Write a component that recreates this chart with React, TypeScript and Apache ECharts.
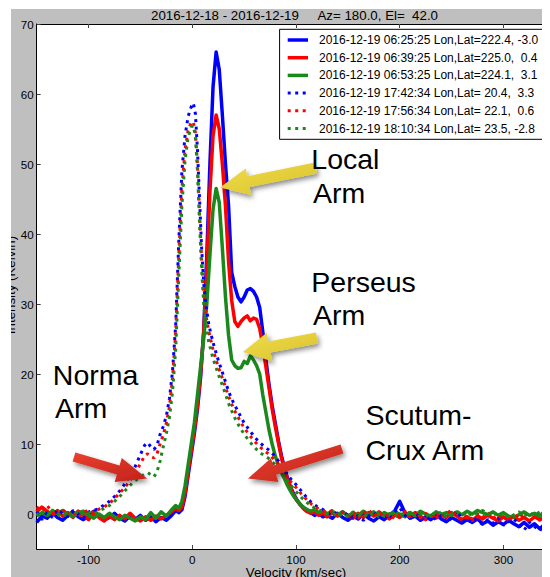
import React, { useEffect, useRef } from 'react';
import * as echarts from 'echarts';

const FONT = '"Liberation Sans", Arial, Helvetica, sans-serif';

// ---------- data ----------
const VEL_SOLID = [
  -150, -145, -140, -135, -130, -125, -120, -115, -110, -105, -100, -95, -90, -85, -80, -75, -70, -65, -60, -55, -50, -45, -40, -35, -30, -25, -20,
  -16, -13, -10, -7, -4, -1, 2, 5, 8, 11, 14, 17, 20, 23, 26, 29, 32, 35, 38, 41, 44, 47, 50, 53, 56, 59, 62, 65, 68, 71, 74, 77, 80, 83, 86, 89, 92, 95, 98, 101, 104, 107, 110, 114, 118, 122, 126,
  130, 135, 140, 145, 150, 155, 160, 165, 170, 175, 180, 185, 190, 195, 200, 205, 210, 215, 220, 225, 230, 235, 240, 245, 250, 255, 260, 265, 270, 275, 280, 285, 290, 295, 300, 305, 310, 315, 320, 325, 330, 335, 340, 345, 350,
];

const BLUE_0625 = [
  -1.2, -0.3, -0.6, 0.2, -0.5, -0.9, -0.2, 0.3, -0.4, -0.8, -0.3, 0.4, -0.2, -0.9, -0.5, 0.1, -0.6, -1.0, -0.3, -0.8, -0.2, -0.9, -0.4, -1.1, -0.5, -0.9, -0.2,
  0.5, 0.2, 0.6, 2.5, 5.5, 8.5,
  11.5, 15, 19.5, 26, 37, 50, 61, 66, 63.5, 57, 50, 44, 34.5, 32.5, 31, 30.3, 31, 32, 32.2, 31.8, 31, 29.5, 26, 22, 18.5, 15.5, 13, 10.5, 8.3, 6.5, 5, 3.8, 2.8, 2, 1.4, 0.9, 0.5,
  0.2, -0.2, 0.1, -0.4,
  -0.2, -0.6, 0.1, -0.5, -0.9, -0.3, -0.7, 0.0, -0.6, -1.0, -0.4, -0.8, -0.2, 0.4, 1.8, 0.2, -0.6, -0.3, -0.9, -0.4, -0.8, -0.2, -0.7, -1.1, -0.5, -0.9, -1.3, -0.8, -1.2, -0.7, -1.4, -1.0, -1.6, -1.1, -1.5, -0.9, -1.4, -1.8, -1.2, -1.9, -1.4, -2.1, -1.5, -1.9, -1.3,
];

const RED_0639 = [
  0.3, 1.0, 0.4, -0.2, 0.5, -0.3, 0.2, -0.5, 0.4, -0.2, -0.8, 0.1, -0.5, -1.0, -0.3, -0.8, -0.2, -0.7, 0.1, -0.6, -1.0, -0.4, -0.9, -0.3, -0.7, -0.2, 0.3,
  0.8, 0.5, 1.0, 3.0, 6.0, 9.0,
  12, 15.5, 20, 26, 35, 46, 54, 57, 55, 50, 44, 36, 30.5, 27.5, 26.8, 27.5, 28, 28.3, 27.6, 28, 27.8, 26.5, 24, 21, 18, 15, 12.5, 10.2, 8, 6.2, 4.8, 3.6, 2.6, 1.9, 1.3, 0.8, 0.4,
  0.1, 0.3, -0.2, 0.2,
  -0.4, 0.2, -0.3, 0.3, -0.2, -0.6, 0.1, -0.5, 0.2, -0.3, 0.3, -0.2, -0.7, -0.1, -0.5, 0.1, -0.4, 0.2, -0.3, -0.8, -0.2, -0.6, 0.0, -0.5, 0.2, -0.3, -0.8, -0.4, -0.9, -0.3, -0.7, -0.2, -0.6, -1.0, -0.4, -0.8, -0.3, -0.9, -0.5, -1.0, -0.4, -0.8, -0.3, -0.7, -0.2,
];

const GREEN_0653 = [
  -0.3, 0.2, -0.2, 0.4, 0.1, 0.5, 0.0, -0.4, 0.2, 0.4, -0.2, -0.6, 0.0, -0.5, 0.1, -0.4, -0.8, -0.2, -0.6, -1.0, -0.4, -0.8, 0.2, -0.6, 0.3, -0.3, 0.6,
  1.2, 0.8, 1.8, 4.0, 7.0, 10,
  13, 17, 21, 25, 30, 37, 43.5, 46.5, 44.5, 38, 31, 25.5, 22, 21.2, 20.8, 20.9, 21.8, 21.5, 22.6, 22, 21.2, 20, 17, 14.5, 12, 10, 8.3, 7, 5.9, 5, 4, 3.2, 2.5, 1.9, 1.4, 1.0, 0.7,
  0.4, 0.6, 0.2, 0.5,
  0.0, 0.4, -0.1, 0.3, -0.3, 0.2, -0.2, 0.4, -0.1, 0.3, -0.4, 0.2, -0.2, 0.3, 0.0, -0.4, 0.2, -0.2, 0.4, 0.0, -0.3, 0.3, -0.1, 0.2, -0.2, 0.3, -0.1, 0.4, 0.0, 0.5, 0.2, -0.1, 0.3, -0.2, 0.2, -0.3, -0.5, -0.1, 0.3, -0.2, 0.1, -0.3, 0.4, 0.0, 0.3,
];

const VEL_DOT = [
  -150, -145, -140, -135, -130, -125, -120, -115, -110, -105, -100,
  -95, -90, -85, -80, -75, -70, -65, -60, -55, -50,
  -46, -43, -40, -37, -34, -31, -28, -25, -22, -19, -16, -13, -10, -7, -4, -1,
  1, 3, 5, 7, 9, 11, 13, 16, 20, 25, 30, 35, 40, 45, 50, 55, 60, 65, 70, 75, 80, 85, 90, 95, 100, 105, 110, 115, 120, 125, 130,
  135, 140, 145, 150, 155, 160, 165, 170, 175, 180, 185, 190, 195, 200, 205, 210, 215, 220, 225, 230, 235, 240, 245, 250, 255, 260, 265, 270, 275, 280, 285, 290, 295, 300, 305, 310, 315, 320, 325, 330, 335, 340, 345, 350,
];

const BLUE_1742 = [
  0.3, -0.8, 0.2, -0.5, 0.6, 0.1, -0.4, 0.5, 0.0, -0.6, 0.3,
  0.5, 0.8, 1.3, 1.8, 2.5, 3.3, 4.3, 5.5, 6.8, 8.5,
  9.8, 10.2, 9.6, 9.2, 9.8, 11.4, 12.5, 14, 16.5, 20.5, 27, 39, 49, 54, 56.8, 58.2,
  58.7, 57.2, 52, 45, 38, 33, 30, 27, 24.5, 22, 19.8, 17.5, 15.8, 14.4, 13, 12, 11, 10.2, 9.6, 9, 8.2, 7.2, 6, 5, 4.2, 3.3, 2.4, 1.6, 1.1, 0.7, 0.3,
  -0.2, 0.3, -0.5, 0.1, -0.7, -0.2, -0.9, -0.3, 0.2, -0.6, -0.1, -0.8, 0.3, 0.9, -0.2, -0.7, 0.1, -0.5, -1.0, -0.3, -0.8, -0.2, -1.2, -0.6, 0.4, -0.7, -1.3, -0.5, -1.0, -1.5, -0.8, -1.3, -0.6, -1.6, -1.1, -0.7, -1.5, -2.3, -1.2, -1.8, -2.4, -1.4, -2.0, -1.5,
];

const RED_1756 = [
  1.0, 0.4, 1.2, 0.3, -0.3, 0.6, -0.1, 0.4, -0.5, 0.2, 0.6,
  0.2, 0.7, 1.0, 1.5, 2.2, 3.0, 3.8, 4.8, 5.8, 7.2,
  8.3, 8.6, 8.2, 8.0, 8.6, 10, 11.3, 13, 15.3, 19.5, 26, 37, 46.5, 52, 54.8, 56,
  56, 54.5, 50, 43, 36.5, 31.5, 28.5, 26, 23.5, 21, 19, 16.8, 15, 13.6, 12.3, 11.3, 10.4, 9.6, 9, 8.4, 7.6, 6.7, 5.6, 4.6, 3.8, 2.9, 2.1, 1.4, 0.9, 0.5, 0.2,
  0.5, -0.2, 0.3, -0.4, 0.2, -0.6, 0.1, 0.6, -0.3, 0.2, -0.5, 0.0, -0.7, -0.1, 0.4, -0.4, 0.2, -0.6, 0.1, -0.4, 0.3, -0.5, 0.0, 0.6, -0.3, -0.8, -0.2, -0.7, 0.0, -0.5, 0.2, -0.6, -0.1, -0.9, -0.3, -0.8, 0.1, -0.6, -1.0, -0.4, -0.9, -0.2, -0.7, -0.1,
];

const GREEN_1810 = [
  -0.2, 0.5, -0.3, 0.6, 0.0, -0.5, 0.3, -0.2, 0.4, -0.1, 0.2,
  0.0, 0.4, 0.8, 1.2, 1.8, 2.5, 3.3, 4.1, 4.8, 5.3,
  5.7, 5.9, 5.6, 5.3, 6.0, 7.6, 9.6, 11.5, 13.8, 17.5, 23.5, 34, 44, 50.5, 53.8, 55.3,
  55.5, 54, 49, 41.5, 35, 30, 27, 24.5, 22.2, 20, 18, 15.8, 14, 12.6, 11.4, 10.4, 9.5, 8.8, 8.3, 7.8, 7.0, 6.1, 5.1, 4.1, 3.2, 2.4, 1.7, 1.1, 0.7, 0.4, 0.1,
  0.2, -0.4, 0.1, -0.3, 0.3, -0.1, -0.5, 0.2, -0.2, 0.3, -0.3, 0.1, -0.4, 0.2, -0.2, 0.3, -0.3, 0.1, -0.4, 0.2, -0.2, 0.3, -0.4, 0.0, 0.4, -0.2, 0.3, -0.3, 0.2, 0.5, -0.1, 0.3, -0.4, 0.1, -0.5, -0.1, 0.3, -0.3, 0.2, -0.2, 0.3, -0.4, 0.1, -0.3,
];

const SERIES_NAMES = [
  '2016-12-19 06:25:25 Lon,Lat=222.4, -3.0',
  '2016-12-19 06:39:25 Lon,Lat=225.0,  0.4',
  '2016-12-19 06:53:25 Lon,Lat=224.1,  3.1',
  '2016-12-19 17:42:34 Lon,Lat= 20.4,  3.3',
  '2016-12-19 17:56:34 Lon,Lat= 22.1,  0.6',
  '2016-12-19 18:10:34 Lon,Lat= 23.5, -2.8',
];

const X_TICKS = [-100, 0, 100, 200, 300];
const Y_TICKS = [0, 10, 20, 30, 40, 50, 60, 70];

const TITLE_DATES = '2016-12-18 - 2016-12-19';
const TITLE_POINTING = 'Az= 180.0, El=  42.0';
const X_NAME = 'Velocity (km/sec)';
const Y_NAME = 'Intensity (Kelvin)';

// ---------- styling ----------
const BLUE = '#0000ff';
const RED = '#ff0000';
const GREEN = '#1a881a';
const DOT = [3, 4.5];

// page -> chart coordinates (chart div sits at the body's 8px margin)
const OX = 8;
const OY = 8;
const px = (x: number) => x - OX;
const py = (y: number) => y - OY;

const nb = (s: string) => s.replace(/  /g, ' \u00a0');

function arrow(tx: number, ty: number, hx: number, hy: number, sw: number, hw: number, hl: number) {
  const dx = hx - tx;
  const dy = hy - ty;
  const L = Math.hypot(dx, dy);
  const ux = dx / L;
  const uy = dy / L;
  const nx = -uy;
  const ny = ux;
  const bx = hx - ux * hl;
  const by = hy - uy * hl;
  const pts = [
    [tx + (nx * sw) / 2, ty + (ny * sw) / 2],
    [bx + (nx * sw) / 2, by + (ny * sw) / 2],
    [bx + (nx * hw) / 2, by + (ny * hw) / 2],
    [hx, hy],
    [bx - (nx * hw) / 2, by - (ny * hw) / 2],
    [bx - (nx * sw) / 2, by - (ny * sw) / 2],
    [tx - (nx * sw) / 2, ty - (ny * sw) / 2],
  ];
  return pts.map(([x, y]) => [px(x), py(y)]);
}

export default function App() {
  const ref = useRef<HTMLDivElement>(null);

  useEffect(() => {
    if (!ref.current) return;
    const chart = echarts.init(ref.current, null, { renderer: 'svg' });

    const zip = (xs: number[], ys: number[]) => xs.map((x, i) => [x, ys[i]]);

    const solid = (name: string, color: string, ys: number[]) => ({
      name,
      type: 'line',
      data: zip(VEL_SOLID, ys),
      symbol: 'none',
      showSymbol: false,
      smooth: false,
      xAxisIndex: 0,
      yAxisIndex: 0,
      lineStyle: { color, width: 3.5, join: 'round' },
      itemStyle: { color },
      silent: true,
    });
    const dotted = (name: string, color: string, ys: number[]) => ({
      name,
      type: 'line',
      data: zip(VEL_DOT, ys),
      symbol: 'none',
      showSymbol: false,
      smooth: false,
      xAxisIndex: 0,
      yAxisIndex: 0,
      lineStyle: { color, width: 3, type: DOT, cap: 'butt' },
      itemStyle: { color },
      silent: true,
    });

    const colors = [BLUE, RED, GREEN, BLUE, RED, GREEN];
    const legendTop = 40;
    const legendStep = 17.7;

    const legendEls: any[] = [
      {
        type: 'rect',
        shape: { x: px(279.6), y: py(29.3), width: 290, height: 110 },
        style: { fill: '#ffffff', stroke: '#000000', lineWidth: 1 },
        z: 50,
      },
    ];
    SERIES_NAMES.forEach((name, i) => {
      const y = py(legendTop + i * legendStep);
      const isDot = i >= 3;
      legendEls.push({
        type: 'line',
        shape: { x1: px(287.7), y1: y, x2: px(308), y2: y },
        style: {
          stroke: colors[i],
          lineWidth: isDot ? 3 : 3.5,
          lineDash: isDot ? DOT : null,
          lineCap: 'butt',
        },
        z: 51,
      });
      legendEls.push({
        type: 'text',
        x: px(319),
        y,
        style: {
          text: nb(name),
          fontSize: 12,
          fontFamily: FONT,
          fill: '#000',
          textAlign: 'left',
          textVerticalAlign: 'middle',
        },
        z: 51,
      });
    });

    const annotation = (text: string, x: number, baseline: number) => ({
      type: 'text',
      x: px(x),
      y: py(baseline - 9.9),
      style: {
        text,
        fontSize: 28.5,
        fontFamily: FONT,
        fill: '#000',
        textAlign: 'left',
        textVerticalAlign: 'middle',
      },
      z: 110,
    });

    const yellowFill = new echarts.graphic.LinearGradient(0, 0, 1, 1, [
      { offset: 0, color: '#f0dd4c' },
      { offset: 1, color: '#d8c02a' },
    ]);
    const redFill = new echarts.graphic.LinearGradient(0, 0, 1, 1, [
      { offset: 0, color: '#e8402f' },
      { offset: 1, color: '#c2221b' },
    ]);
    const shadow = {
      shadowBlur: 5,
      shadowColor: 'rgba(0,0,0,0.45)',
      shadowOffsetX: 2,
      shadowOffsetY: 3,
    };
    const arrowEl = (pts: number[][], fill: any) => ({
      type: 'polygon',
      shape: { points: pts },
      style: { fill, ...shadow },
      z: 100,
    });

    const option: any = {
      animation: false,
      backgroundColor: '#bfbfbf',
      grid: {
        left: px(36.7),
        top: py(24),
        width: 518.6,
        height: 525,
        show: true,
        backgroundColor: '#ffffff',
        borderWidth: 0,
        containLabel: false,
        outerBoundsMode: 'none',
      },
      xAxis: [
        {
          type: 'value',
          min: -150,
          max: 350,
          position: 'bottom',
          axisLine: { show: true, onZero: false, lineStyle: { color: '#000', width: 1 } },
          axisTick: { show: true, inside: true, length: 4, customValues: X_TICKS, lineStyle: { color: '#444' } },
          axisLabel: {
            show: true,
            customValues: X_TICKS,
            fontSize: 11.6,
            fontFamily: FONT,
            color: '#000',
            margin: 4,
          },
          splitLine: { show: false },
        },
        {
          type: 'value',
          min: -150,
          max: 350,
          position: 'top',
          axisLine: { show: true, onZero: false, lineStyle: { color: '#000', width: 1 } },
          axisTick: { show: true, inside: true, length: 4, customValues: X_TICKS, lineStyle: { color: '#444' } },
          axisLabel: { show: false },
          splitLine: { show: false },
        },
      ],
      yAxis: [
        {
          type: 'value',
          min: -5,
          max: 70,
          position: 'left',
          axisLine: { show: true, onZero: false, lineStyle: { color: '#000', width: 1 } },
          axisTick: { show: true, inside: true, length: 4, customValues: Y_TICKS, lineStyle: { color: '#444' } },
          axisLabel: {
            show: true,
            customValues: Y_TICKS,
            fontSize: 11.6,
            fontFamily: FONT,
            color: '#000',
            margin: 3,
          },
          splitLine: { show: false },
        },
      ],
      series: [
        solid(SERIES_NAMES[0], BLUE, BLUE_0625),
        solid(SERIES_NAMES[1], RED, RED_0639),
        solid(SERIES_NAMES[2], GREEN, GREEN_0653),
        dotted(SERIES_NAMES[3], BLUE, BLUE_1742),
        dotted(SERIES_NAMES[4], RED, RED_1756),
        dotted(SERIES_NAMES[5], GREEN, GREEN_1810),
      ],
      graphic: [
        // title
        {
          type: 'text',
          x: px(151),
          y: py(15),
          style: { text: TITLE_DATES, fontSize: 13.3, fontFamily: FONT, fill: '#000', textAlign: 'left', textVerticalAlign: 'middle' },
          z: 50,
        },
        {
          type: 'text',
          x: px(317.5),
          y: py(15),
          style: { text: nb(TITLE_POINTING), fontSize: 13.3, fontFamily: FONT, fill: '#000', textAlign: 'left', textVerticalAlign: 'middle' },
          z: 50,
        },
        // axis names
        {
          type: 'text',
          x: px(296),
          y: py(572.9),
          style: { text: X_NAME, fontSize: 13.3, fontFamily: FONT, fill: '#000', textAlign: 'center', textVerticalAlign: 'middle' },
          z: 50,
        },
        {
          type: 'text',
          x: px(10.4),
          y: py(285),
          rotation: Math.PI / 2,
          style: { text: Y_NAME, fontSize: 13.3, fontFamily: FONT, fill: '#000', textAlign: 'center', textVerticalAlign: 'middle' },
          z: 50,
        },
        ...legendEls,
        // arrows
        arrowEl(arrow(316, 168, 220, 187.5, 11, 27, 29), yellowFill),
        arrowEl(arrow(317, 338, 243, 352, 11, 29, 27), yellowFill),
        arrowEl(arrow(74, 457, 147, 478.5, 9.5, 25, 30), redFill),
        arrowEl(arrow(342, 449, 248, 478.5, 9.5, 25, 28), redFill),
        // annotations
        annotation('Local', 311.3, 169.3),
        annotation('Arm', 313, 203.3),
        annotation('Perseus', 311.3, 292.3),
        annotation('Arm', 313, 325),
        annotation('Norma', 52.8, 385),
        annotation('Arm', 55, 418.3),
        annotation('Scutum-', 365.4, 425),
        annotation('Crux Arm', 365.4, 460),
        // white page margin strips
        { type: 'rect', shape: { x: 0, y: 0, width: 3, height: 569 }, style: { fill: '#ffffff' }, z: 200 },
        { type: 'rect', shape: { x: 0, y: 0, width: 542, height: 1 }, style: { fill: '#ffffff' }, z: 200 },
      ],
    };

    chart.setOption(option);
    return () => chart.dispose();
  }, []);

  return <div ref={ref} style={{ width: 542, height: 569 }} />;
}
